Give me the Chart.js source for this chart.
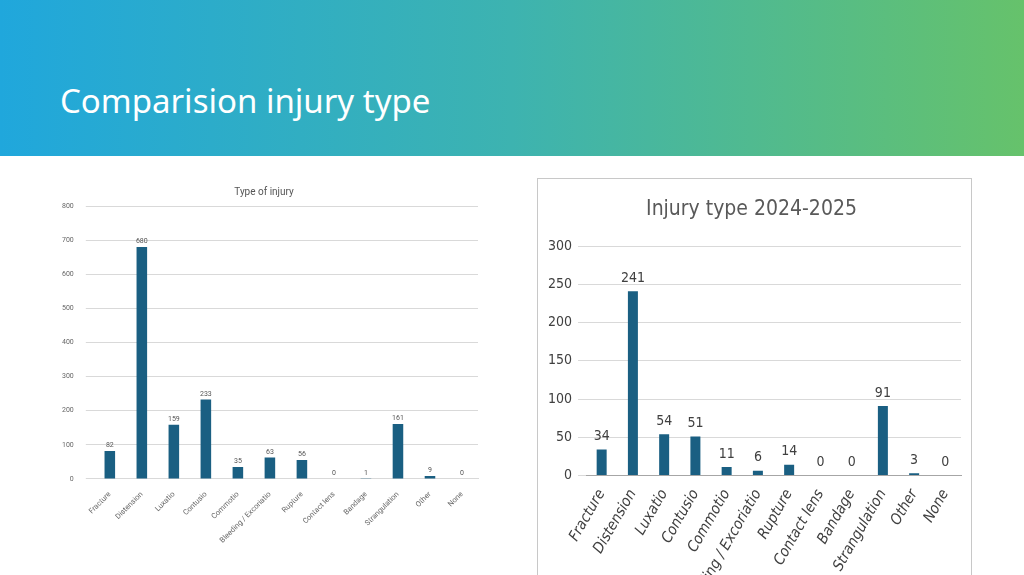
<!DOCTYPE html>
<html>
<head>
<meta charset="utf-8">
<script src="https://cdn.jsdelivr.net/npm/chart.js@4"></script>
<style>
  body { margin: 0; width: 1024px; height: 575px; overflow: hidden; background: #fff; font-family: "Noto Sans", sans-serif; position: relative; }
  #header { position: absolute; left: 0; top: 0; width: 1024px; height: 156px; background: linear-gradient(90deg, #20a7dc 0%, #3db3b0 50%, #66c26b 100%); }
  #header h1 { position: absolute; left: 60px; top: 78px; margin: 0; color: #fff; font-weight: 400; font-size: 33px; }
  #left { position: absolute; left: 50px; top: 186px; width: 432px; height: 362px; }
  #right { position: absolute; left: 537px; top: 178px; width: 435px; height: 442px; border: 1px solid #c8c8c8; box-sizing: border-box; }
</style>
</head>
<body>
<div id="header"><h1>Comparision injury type</h1></div>
<div id="left"><canvas id="leftChart"></canvas></div>
<div id="right"><canvas id="rightChart"></canvas></div>
<script>
const categories = ['Fracture', 'Distension', 'Luxatio', 'Contusio', 'Commotio', 'Bleeding / Excoriatio',
  'Rupture', 'Contact lens', 'Bandage', 'Strangulation', 'Other', 'None'];
const totalValues = [82, 680, 159, 233, 35, 63, 56, 0, 1, 161, 9, 0];
const seasonValues = [34, 241, 54, 51, 11, 6, 14, 0, 0, 91, 3, 0];
const leftTicks = [0, 100, 200, 300, 400, 500, 600, 700, 800];
const rightTicks = [0, 50, 100, 150, 200, 250, 300];

const NARROW = '"DejaVu Sans Condensed", "Liberation Sans", sans-serif';

// draws the value above each bar
const valueLabels = {
  id: 'valueLabels',
  afterDatasetsDraw(chart, args, opts) {
    const ctx = chart.ctx;
    const meta = chart.getDatasetMeta(0);
    ctx.save();
    ctx.font = opts.font;
    ctx.fillStyle = opts.color;
    ctx.textAlign = 'center';
    ctx.textBaseline = 'bottom';
    meta.data.forEach((bar, i) => {
      ctx.fillText(chart.data.datasets[0].data[i], bar.x, bar.y - opts.offset);
    });
    ctx.restore();
  }
};

new Chart(document.getElementById('leftChart'), {
  type: 'bar',
  data: { labels: categories, datasets: [{ data: totalValues, backgroundColor: '#1a5f82', barPercentage: 0.33, categoryPercentage: 1 }] },
  plugins: [valueLabels],
  options: {
    responsive: true, maintainAspectRatio: false, animation: false,
    layout: { padding: { right: 4 } },
    plugins: {
      legend: { display: false },
      title: { display: true, text: 'Type of injury', color: '#555', font: { family: 'Roboto', size: 10, weight: 'normal' }, padding: { top: 0, bottom: 8 } },
      valueLabels: { font: '7px Roboto', color: '#555', offset: 2 }
    },
    scales: {
      x: { grid: { display: false }, border: { color: '#d9d9d9' },
        ticks: { color: '#666', font: { family: 'Roboto', size: 7.5 }, minRotation: 45, maxRotation: 45, autoSkip: false } },
      y: { min: 0, max: 800, afterBuildTicks: a => { a.ticks = leftTicks.map(v => ({ value: v })); },
        grid: { color: '#d9d9d9' }, border: { display: false },
        ticks: { color: '#666', font: { family: 'Roboto', size: 7 }, padding: 12 } }
    }
  }
});

new Chart(document.getElementById('rightChart'), {
  type: 'bar',
  data: { labels: categories, datasets: [{ data: seasonValues, backgroundColor: '#1a5f82', barPercentage: 0.32, categoryPercentage: 1 }] },
  plugins: [valueLabels],
  options: {
    responsive: true, maintainAspectRatio: false, animation: false,
    layout: { padding: { left: 4, right: 10, top: 18, bottom: 0 } },
    plugins: {
      legend: { display: false },
      title: { display: true, text: 'Injury type 2024-2025', color: '#595959', font: { family: NARROW, size: 21, weight: 'normal' }, padding: { top: 0, bottom: 24 } },
      valueLabels: { font: '14px ' + NARROW, color: '#404040', offset: 6 }
    },
    scales: {
      x: { grid: { display: false }, border: { color: '#a6a6a6' },
        ticks: { color: '#404040', font: { family: NARROW, size: 15, style: 'italic' }, minRotation: 60, maxRotation: 60, autoSkip: false } },
      y: { min: 0, max: 300, afterBuildTicks: a => { a.ticks = rightTicks.map(v => ({ value: v })); },
        grid: { color: '#d9d9d9' }, border: { display: false },
        ticks: { color: '#404040', font: { family: NARROW, size: 14 }, padding: 6 } }
    }
  }
});
</script>
</body>
</html>
